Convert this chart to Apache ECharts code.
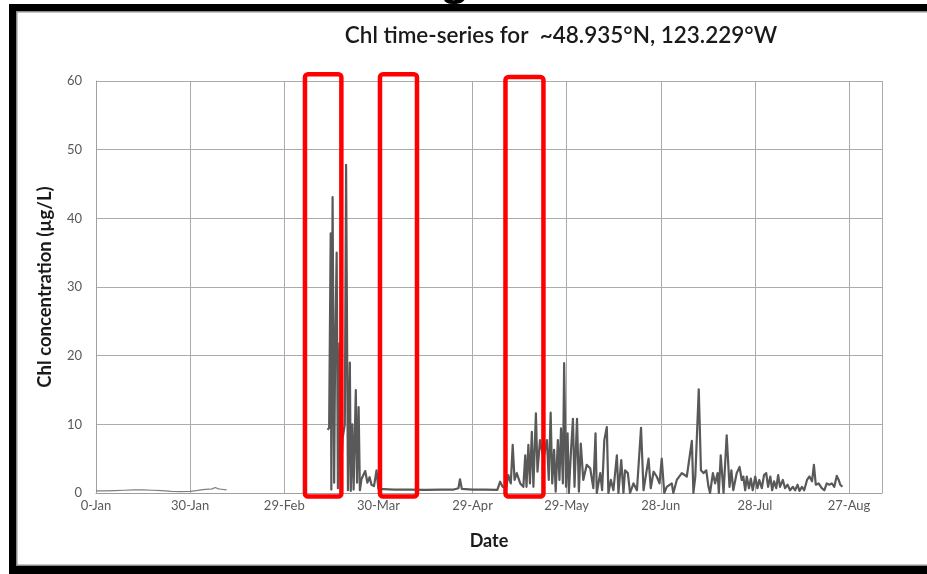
<!DOCTYPE html>
<html>
<head>
<meta charset="utf-8">
<script src="https://cdn.jsdelivr.net/npm/echarts@6/dist/echarts.min.js"></script>
<style>
html,body{margin:0;padding:0;background:#fff;}
#chart{width:927px;height:574px;}
</style>
</head>
<body>
<div id="chart"></div>
<script>
// ---- tick labels (x axis: day of year, one label every 30 days) ----
const xTickLabels = ['0-Jan','30-Jan','29-Feb','30-Mar','29-Apr','29-May','28-Jun','28-Jul','27-Aug'];

// ---- winter segment (Jan - early Feb) ----
const days1 = [0,3,6,9,12,15,18,21,24,27,30,32,34,36,37,38,39,40,41.6];
const chl1  = [0.3,0.3,0.35,0.4,0.45,0.45,0.4,0.35,0.25,0.2,0.25,0.35,0.5,0.55,0.6,0.8,0.6,0.55,0.45];

// ---- spring bloom (mid / late March) ----
const days2 = [73.8,74.3,74.8,75.0,75.4,75.9,76.2,76.7,77.1,77.6,78.0,78.6,79.3,79.7,80.3,80.9,81.2,81.7,82.1,82.8,83.2,83.7,84.1,84.6,85.2,85.8,86.5,87.2,87.8,88.6,89.4,90.0];
const chl2  = [9.2,9.5,37.8,0.5,43.1,1.5,20,35,0.7,21.8,2,8,10,47.8,0.4,19,0.3,10,0.5,15,1.5,12.5,0.4,2,2.2,3.2,1.5,2.3,1.2,1.0,3.3,0.6];

// ---- quiet period (April - mid May) ----
const days3 = [90.5,95,100,105,110,114,115.5,116,116.6,120,124,127.9];
const chl3  = [0.5,0.5,0.5,0.45,0.5,0.5,0.7,2.0,0.6,0.5,0.5,0.45];

// ---- late spring / summer ----
const days4 = [128.8,129.6,130.7,131.4,132.2,132.8,133.4,134.1,135.2,136.2,136.8,137.2,137.8,138.3,138.9,139.4,140.2,140.7,141.5,142.6,143.7,144.3,144.9,145.4,146.0,146.5,147.2,147.7,148.2,148.8,149.2,149.8,150.3,150.7,151.4,152.0,152.5,153.3,153.9,154.5,155.3,156.4,157.5,158.5,159.2,159.6,160.7,161.3,162.0,162.8,163.3,164.1,164.9,166.0,166.5,167.4,168.1,168.6,169.5,170.2,171.3,172.4,173.7,174.5,176.1,176.8,177.7,178.7,179.6,180.3,181.1,181.9,183.5,184.0,185.1,186.7,188.3,189.9,190.4,191.0,192.1,192.8,193.6,194.5,195.2,195.7,196.6,197.3,198.1,198.5,199.1,200.0,201.0,201.9,202.5,203.1,204.2,205.1,205.8,206.3,206.9,207.4,208.1,208.7,209.3,210.1,210.8,211.4,212.2,212.9,213.6,214.2,214.9,215.5,216.1,216.8,217.4,218.0,218.9,219.6,220.4,221.2,222.1,222.8,223.6,224.2,225.0,225.7,226.6,227.4,228.2,228.8,229.4,230.3,231.3,232.1,232.9,233.7,234.5,235.3,236.1,236.7,237.2,237.9];
const chl4  = [1.65,0.9,0.7,2.6,1.4,7.0,1.9,2.9,1.4,0.9,5.5,0.9,7.0,1.4,8.9,0.9,11.6,3.1,7.7,5.0,7.7,1.9,11.7,1.4,6.3,0.2,7.7,1.9,9.4,1.4,18.9,0.9,8.7,0,6.3,10.8,0.9,10.8,0.2,7.2,1.9,4.1,3.6,0.7,8.7,0,2.9,0.4,7.7,9.6,0,1.9,0.4,5.5,0,4.8,0,3.3,2.9,0,1.4,0.4,9.5,0.4,5,0.7,3.1,2.4,1.4,5,0,0.9,1.4,0,1.9,2.9,2.4,7.6,0,2.4,15.1,3.3,2.9,3.3,0.9,0,2.9,1.4,2.9,0,5.5,0,8.4,0.9,3.3,0.4,2.9,3.8,1.9,2.4,0.4,2.4,0.7,2.1,0.4,2.4,0.7,1.9,0.7,2.6,2.9,0.9,2.4,0.4,1.7,0.7,2.6,0.9,1.9,0.7,1.2,0.4,0.9,0.4,1.2,0.3,0.9,0.4,1.9,2.4,1.7,4.1,1.2,1.4,0.7,0.4,1.4,1.2,1.4,0.9,2.5,1.9,1.2,0.9];

// ---- highlighted periods (annotation boxes, in data units) ----
const boxStartDay = [66.6, 90.5, 130.5];
const boxEndDay   = [78.2, 102.3, 142.6];
const boxTopChl   = [61.0, 61.0, 60.6];
const boxBottomChl = -0.5;

function pairs(xs, ys){ return xs.map((x,i)=>[x, ys[i]]); }
const bloomAndSummer = pairs(days2, chl2).concat(pairs(days3, chl3), pairs(days4, chl4));

const chart = echarts.init(document.getElementById('chart'), null, {renderer:'canvas'});
const FONT = 'Lato, "Open Sans", sans-serif';

chart.setOption({
  animation: false,
  backgroundColor: '#ffffff',
  title: {
    text: 'Chl time-series for  ~48.935°N, 123.229°W',
    left: 556, top: 19, textAlign: 'center',
    textStyle: {fontFamily: FONT, fontSize: 22.5, fontWeight: 600, color: '#1a1a1a'}
  },
  grid: {left: 96, right: 45, top: 81, bottom: 81, containLabel: false},
  xAxis: {
    type: 'value', min: 0, max: 250.5, interval: 30,
    name: 'Date', nameLocation: 'middle', nameGap: 39,
    nameTextStyle: {fontFamily: FONT, fontSize: 18, fontWeight: 'bold', color: '#1a1a1a'},
    axisLine: {show: true, lineStyle: {color: '#a0a0a0', width: 1}},
    axisTick: {show: false},
    axisLabel: {
      margin: 6, color: '#595959', fontFamily: FONT, fontSize: 13,
      formatter: v => (Math.abs(v % 30) < 1e-6 ? xTickLabels[Math.round(v/30)] : ''),
      showMaxLabel: false
    },
    splitLine: {show: true, lineStyle: {color: '#ababab', width: 1}}
  },
  yAxis: {
    type: 'value', min: 0, max: 60, interval: 10,
    name: 'Chl concentration (µg/L)', nameLocation: 'middle', nameGap: 41,
    nameTextStyle: {fontFamily: FONT, fontSize: 18.5, fontWeight: 'bold', color: '#1a1a1a'},
    axisLine: {show: true, lineStyle: {color: '#a0a0a0', width: 1}},
    axisTick: {show: false},
    axisLabel: {margin: 14, color: '#595959', fontFamily: FONT, fontSize: 13},
    splitLine: {show: true, lineStyle: {color: '#ababab', width: 1}}
  },
  series: [
    {
      type: 'line', data: pairs(days1, chl1), showSymbol: false, symbol: 'none',
      lineStyle: {color: '#7f7f7f', width: 1.2, join: 'round'}, z: 3
    },
    {
      type: 'line', data: bloomAndSummer, showSymbol: false, symbol: 'none',
      lineStyle: {color: '#595959', width: 2.2, join: 'round'}, z: 3
    }
  ]
});

// annotation boxes and slide frame
const g = [];
for (let i = 0; i < boxStartDay.length; i++) {
  const p1 = chart.convertToPixel({gridIndex: 0}, [boxStartDay[i], boxTopChl[i]]);
  const p2 = chart.convertToPixel({gridIndex: 0}, [boxEndDay[i], boxBottomChl]);
  g.push({type: 'rect', z: 100,
    shape: {x: p1[0], y: p1[1], width: p2[0]-p1[0], height: p2[1]-p1[1], r: 3},
    style: {fill: null, stroke: '#ff0000', lineWidth: 4.5}});
}
// slide frame (black border with thin grey inner edge)
g.push({type:'rect', z:90, shape:{x:9, y:4, width:918, height:7}, style:{fill:'#000'}});
g.push({type:'rect', z:90, shape:{x:9, y:4, width:7, height:570}, style:{fill:'#000'}});
g.push({type:'rect', z:90, shape:{x:9, y:566, width:918, height:8}, style:{fill:'#000'}});
g.push({type:'rect', z:90, shape:{x:16, y:11, width:911, height:1.5}, style:{fill:'#8c8c8c'}});
g.push({type:'rect', z:90, shape:{x:16, y:11, width:1.5, height:555}, style:{fill:'#8c8c8c'}});
g.push({type:'rect', z:90, shape:{x:16, y:564.5, width:911, height:1.5}, style:{fill:'#8c8c8c'}});
// descender of the slide heading above the frame
g.push({type:'text', z:95, style:{text:'g', x:455, y:-36, fill:'#000', font:'bold 40px "Open Sans", sans-serif', textAlign:'center'}});
chart.setOption({graphic: g});
</script>
</body>
</html>
